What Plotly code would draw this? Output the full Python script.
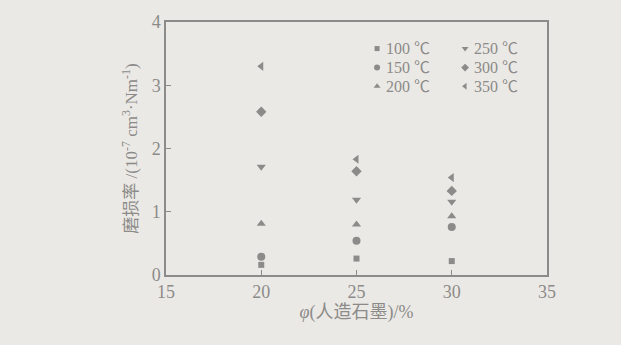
import plotly.graph_objects as go

x_vals = [20, 25, 30]
labels = ["100 ℃", "150 ℃", "200 ℃", "250 ℃", "300 ℃", "350 ℃"]
symbols = ["square", "circle", "triangle-up", "triangle-down", "diamond", "triangle-left"]
y_100 = [0.16, 0.26, 0.22]
y_150 = [0.29, 0.54, 0.76]
y_200 = [0.81, 0.80, 0.93]
y_250 = [1.71, 1.19, 1.16]
y_300 = [2.58, 1.64, 1.33]
y_350 = [3.30, 1.83, 1.54]
series = [y_100, y_150, y_200, y_250, y_300, y_350]
x_ticks = [15, 20, 25, 30, 35]
y_ticks = [0, 1, 2, 3, 4]

# legend key layout (fractions of the plot area)
leg_col_x = [0.554, 0.785]
leg_row_y = [0.895, 0.820, 0.746]

gray = "#8c8b89"
font_fam = "'Liberation Serif', 'Times New Roman', 'Noto Sans CJK SC', serif"

fig = go.Figure()
for i, (lab, sym, ys) in enumerate(zip(labels, symbols, series)):
    fig.add_trace(go.Scatter(
        x=x_vals, y=ys, mode="markers", name=lab, showlegend=False,
        marker=dict(symbol=sym, size=8 if sym != "square" else 6, color=gray),
    ))

# legend keys drawn on an overlay axis spanning the plot area
for i, (lab, sym) in enumerate(zip(labels, symbols)):
    col, row = divmod(i, 3)
    fig.add_trace(go.Scatter(
        x=[leg_col_x[col]], y=[leg_row_y[row]], mode="markers", showlegend=False,
        xaxis="x2", yaxis="y2", hoverinfo="skip",
        marker=dict(symbol=sym, size=6 if sym != "square" else 5, color=gray),
    ))
    fig.add_annotation(
        x=leg_col_x[col] + 0.017, y=leg_row_y[row], xref="x2", yref="y2",
        text=lab, showarrow=False, xanchor="left", yanchor="middle",
        font=dict(family=font_fam, size=16, color=gray),
    )

axis_common = dict(
    showline=True, linecolor=gray, linewidth=1.5, mirror=True,
    ticks="inside", ticklen=5, tickcolor=gray, tickwidth=1.2,
    showgrid=False, zeroline=False,
    tickfont=dict(family=font_fam, size=18, color=gray),
)

fig.update_layout(
    width=621, height=345,
    margin=dict(l=166, r=74, t=19, b=70),
    paper_bgcolor="#ebe9e5", plot_bgcolor="#ebe9e5",
    showlegend=False,
    xaxis=dict(range=[15, 35], tickvals=x_ticks,
               title=dict(text="<i>φ</i>(人造石墨)/%", font=dict(family=font_fam, size=18, color=gray), standoff=4),
               **axis_common),
    yaxis=dict(range=[0, 4], tickvals=y_ticks,
               title=dict(text="磨损率 /(10<sup>-7</sup> cm<sup>3</sup>·Nm<sup>-1</sup>)", font=dict(family=font_fam, size=17, color=gray), standoff=10),
               **axis_common),
    xaxis2=dict(range=[0, 1], overlaying="x", visible=False, fixedrange=True),
    yaxis2=dict(range=[0, 1], overlaying="y", visible=False, fixedrange=True),
)

fig.write_html("out.html")
